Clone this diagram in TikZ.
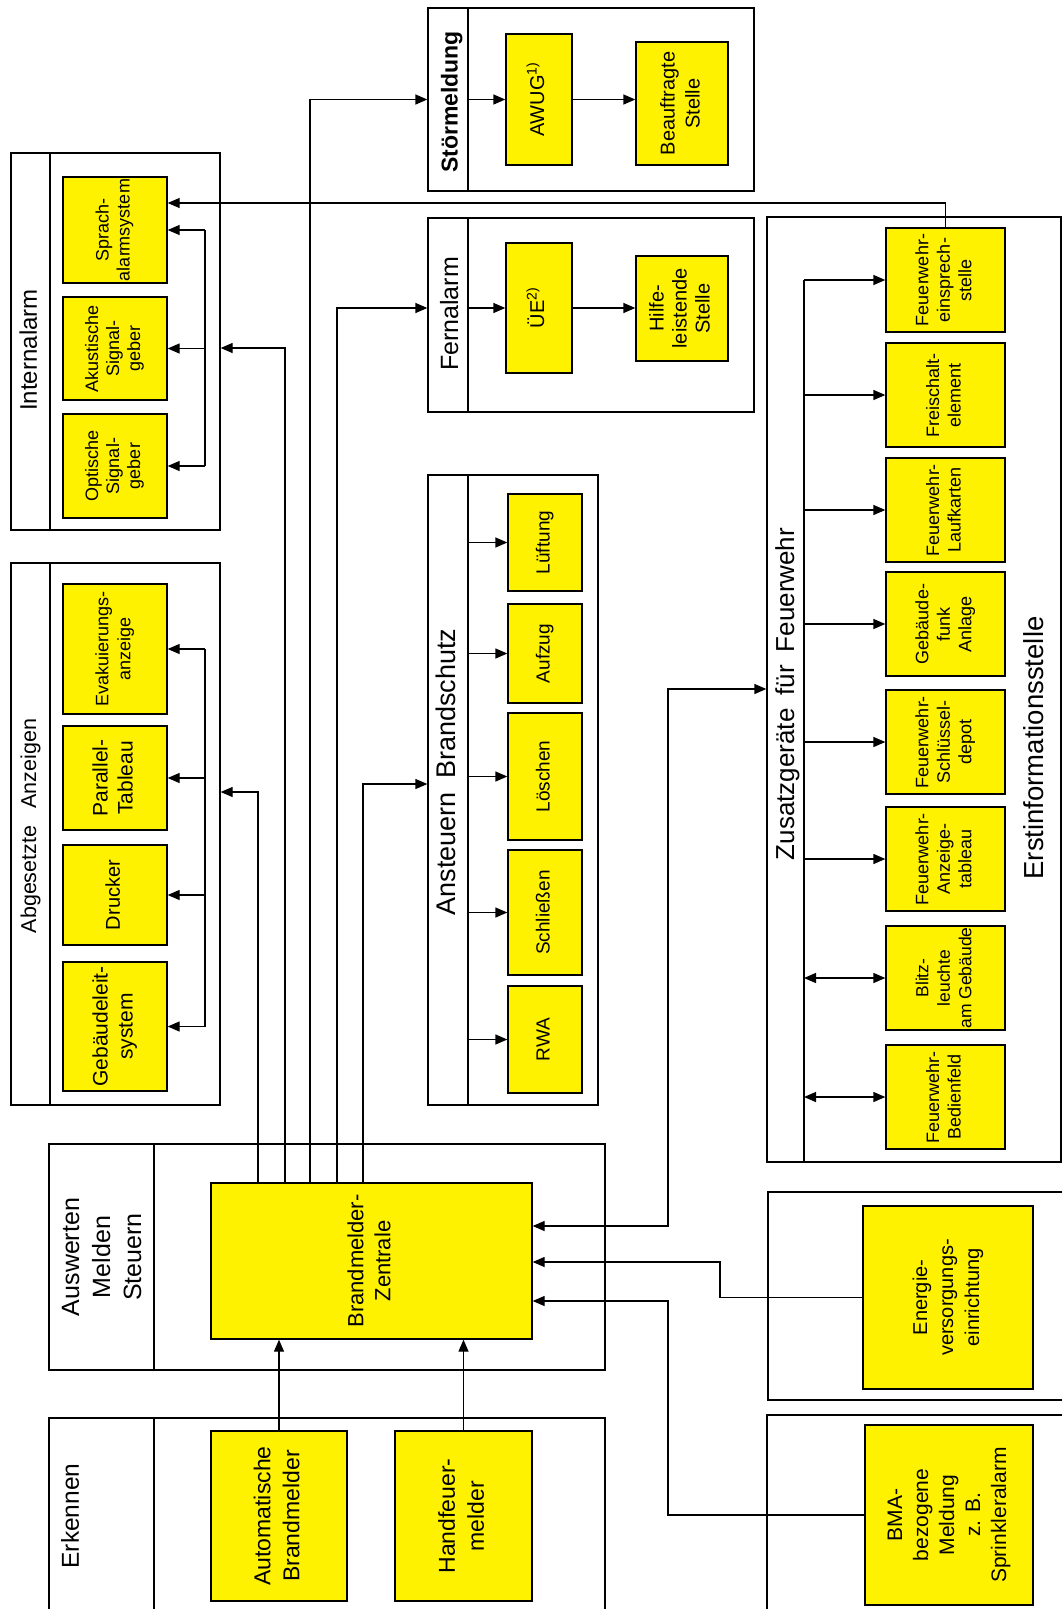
\documentclass[tikz,border=0pt]{standalone}
\usepackage{fontspec}
\setmainfont{Liberation Sans}
\usetikzlibrary{arrows.meta}
\newcommand{\vtext}[3]{\rotatebox{90}{\fontsize{#1}{#2}\selectfont\begin{tabular}{@{}c@{}}#3\end{tabular}}}
\tikzset{
  gframe/.style={draw, line width=1.3pt, inner sep=0pt},
  ybox/.style={draw, fill=yellow, line width=1.3pt, inner sep=0pt},
  grouptitle/.style={inner sep=0pt},
  wire/.style={line width=1.3pt},
  arr/.style={line width=1.3pt, -{Triangle[length=12pt,width=10pt]}},
  darr/.style={line width=1.3pt, {Triangle[length=12pt,width=10pt]}-{Triangle[length=12pt,width=10pt]}}
}
\begin{document}
\begin{tikzpicture}[x=1pt,y=-1pt]
\useasboundingbox (0,0) rectangle (1062,1609);
\clip (0,0) rectangle (1062,1609);

\node[gframe, minimum width=326pt, minimum height=183pt] (stoer) at (591,99.5) {};
\node[gframe, minimum width=326pt, minimum height=194pt] (fern) at (591,315) {};
\node[gframe, minimum width=209pt, minimum height=377pt] (intern) at (115.5,341.5) {};
\node[gframe, minimum width=209pt, minimum height=542pt] (abges) at (115.5,834) {};
\node[gframe, minimum width=170pt, minimum height=630pt] (anst) at (513,790) {};
\node[gframe, minimum width=294pt, minimum height=945pt] (erst) at (914,689.5) {};
\node[gframe, minimum width=556pt, minimum height=226pt] (ausw) at (327,1257) {};
\node[gframe, minimum width=556pt, minimum height=222pt] (erk) at (327,1529) {};
\node[gframe, minimum width=298pt, minimum height=208pt] (energf) at (917,1296) {};
\node[gframe, minimum width=299pt, minimum height=225pt] (bmaf) at (916.5,1527.5) {};

\draw[wire] (stoer.north -| 468,0) -- (stoer.south -| 468,0);
\draw[wire] (fern.north -| 468,0) -- (fern.south -| 468,0);
\draw[wire] (intern.north -| 50,0) -- (intern.south -| 50,0);
\draw[wire] (abges.north -| 50,0) -- (abges.south -| 50,0);
\draw[wire] (anst.north -| 468,0) -- (anst.south -| 468,0);
\draw[wire] (ausw.north -| 154,0) -- (ausw.south -| 154,0);
\draw[wire] (erk.north -| 154,0) -- (erk.south -| 154,0);

\node[grouptitle] (tstoer) at (452,102) {\vtext{23}{28}{\bfseries Störmeldung}};
\node[grouptitle] (tfern) at (452,314) {\vtext{25}{30}{Fernalarm}};
\node[grouptitle] (tintern) at (31,350) {\vtext{24}{29}{Internalarm}};
\node[grouptitle] (tabges) at (31,826) {\vtext{21.5}{25}{Abgesetzte\hspace{0.8em}Anzeigen}};
\node[grouptitle] (tanst) at (449,772) {\vtext{27}{32}{Ansteuern\hspace{0.5em}Brandschutz}};
\node[grouptitle] (tzus) at (788,694) {\vtext{26}{31}{Zusatzgeräte\hspace{0.5em}für\hspace{0.5em}Feuerwehr}};
\node[grouptitle] (terst) at (1037,748) {\vtext{27.5}{32}{Erstinformationsstelle}};
\node[grouptitle] (tausw) at (104,1257) {\vtext{25}{31}{Auswerten\\Melden\\Steuern}};
\node[grouptitle] (terk) at (73,1516) {\vtext{24.5}{29}{Erkennen}};

\node[ybox, minimum width=66pt, minimum height=131pt] (awug) at (539,99.5) {\vtext{20}{24}{AWUG\textsuperscript{1)}}};
\node[ybox, minimum width=92pt, minimum height=123pt] (beauf) at (682,103.5) {\vtext{20}{25}{Beauftragte\\Stelle}};
\node[ybox, minimum width=66pt, minimum height=130pt] (ue) at (539,308) {\vtext{20}{24}{ÜE\textsuperscript{2)}}};
\node[ybox, minimum width=92pt, minimum height=105pt] (hilfe) at (682,308.5) {\vtext{20}{23}{Hilfe-\\leistende\\Stelle}};

\node[ybox, minimum width=104pt, minimum height=106pt] (sprach) at (115,230) {\vtext{18}{21}{Sprach-\\alarmsystem}};
\node[ybox, minimum width=104pt, minimum height=103pt] (akust) at (115,348.5) {\vtext{18}{21}{Akustische\\Signal-\\geber}};
\node[ybox, minimum width=104pt, minimum height=104pt] (opt) at (115,466) {\vtext{18}{21}{Optische\\Signal-\\geber}};

\node[ybox, minimum width=104pt, minimum height=130pt] (evak) at (115,649) {\vtext{18}{22}{Evakuierungs-\\anzeige}};
\node[ybox, minimum width=104pt, minimum height=104pt] (para) at (115,778) {\vtext{21}{25}{Parallel-\\Tableau}};
\node[ybox, minimum width=104pt, minimum height=100pt] (druck) at (115,895) {\vtext{20}{24}{Drucker}};
\node[ybox, minimum width=104pt, minimum height=129pt] (gebl) at (115,1026.5) {\vtext{21}{25}{Gebäudeleit-\\system}};

\node[ybox, minimum width=74pt, minimum height=97pt] (lueft) at (545,542.5) {\vtext{19}{23}{Lüftung}};
\node[ybox, minimum width=74pt, minimum height=99pt] (aufz) at (545,653.5) {\vtext{19}{23}{Aufzug}};
\node[ybox, minimum width=74pt, minimum height=127pt] (loesch) at (545,776.5) {\vtext{19}{23}{Löschen}};
\node[ybox, minimum width=74pt, minimum height=125pt] (schl) at (545,912.5) {\vtext{19}{23}{Schließen}};
\node[ybox, minimum width=74pt, minimum height=107pt] (rwa) at (545,1039.5) {\vtext{19}{23}{RWA}};

\node[ybox, minimum width=119pt, minimum height=104pt] (einspr) at (945.5,280) {\vtext{18}{21.5}{Feuerwehr-\\einsprech-\\stelle}};
\node[ybox, minimum width=119pt, minimum height=104pt] (freis) at (945.5,395) {\vtext{18}{21.5}{Freischalt-\\element}};
\node[ybox, minimum width=119pt, minimum height=104pt] (laufk) at (945.5,510) {\vtext{18}{21.5}{Feuerwehr-\\Laufkarten}};
\node[ybox, minimum width=119pt, minimum height=104pt] (funk) at (945.5,624) {\vtext{18}{21.5}{Gebäude-\\funk\\Anlage}};
\node[ybox, minimum width=119pt, minimum height=104pt] (depot) at (945.5,742) {\vtext{18}{21.5}{Feuerwehr-\\Schlüssel-\\depot}};
\node[ybox, minimum width=119pt, minimum height=104pt] (tabl) at (945.5,859) {\vtext{18}{21.5}{Feuerwehr-\\Anzeige-\\tableau}};
\node[ybox, minimum width=119pt, minimum height=104pt] (blitz) at (945.5,978) {\vtext{17.5}{21.5}{Blitz-\\leuchte\\am Gebäude}};
\node[ybox, minimum width=119pt, minimum height=104pt] (bedien) at (945.5,1097) {\vtext{18}{21.5}{Feuerwehr-\\Bedienfeld}};

\node[ybox, minimum width=321pt, minimum height=156pt] (bmz) at (371.5,1261) {\vtext{22}{27}{Brandmelder-\\Zentrale}};
\node[ybox, minimum width=136pt, minimum height=170pt] (auto) at (279,1516) {\vtext{23}{29}{Automatische\\Brandmelder}};
\node[ybox, minimum width=137pt, minimum height=170pt] (hand) at (463.5,1516) {\vtext{23}{29}{Handfeuer-\\melder}};
\node[ybox, minimum width=170pt, minimum height=183pt] (energ) at (948,1297.5) {\vtext{20}{26}{Energie-\\versorgungs-\\einrichtung}};
\node[ybox, minimum width=168pt, minimum height=180pt] (bma) at (949,1515) {\vtext{21}{26}{BMA-\\bezogene\\Meldung\\z. B.\\Sprinkleralarm}};

\draw[arr] (auto.north) -- (auto.north |- bmz.south);
\draw[arr] (hand.north) -- (hand.north |- bmz.south);

\draw[arr] (bmz.north -| 258,0) |- (abges.east |- 0,792);
\draw[arr] (bmz.north -| 285,0) |- (intern.east |- 0,348);
\draw[arr] (bmz.north -| 310,0) |- (stoer.west |- awug.west);
\draw[arr] (bmz.north -| 337,0) |- (fern.west |- ue.west);
\draw[arr] (bmz.north -| 363,0) |- (anst.west |- 0,784);

\draw[arr] (awug.west -| 468,0) -- (awug.west);
\draw[arr] (awug.east) -- (awug.east -| beauf.west);
\draw[arr] (ue.west -| 468,0) -- (ue.west);
\draw[arr] (ue.east) -- (ue.east -| hilfe.west);

\draw[wire] (sprach.east -| 205,0) -- (opt.east -| 205,0);
\foreach \n in {sprach,akust,opt} \draw[arr] (\n.east -| 205,0) -- (\n.east);
\draw[arr] (einspr.north) |- (sprach.east |- 0,203);

\draw[wire] (evak.east -| 205,0) -- (gebl.east -| 205,0);
\foreach \n in {evak,para,druck,gebl} \draw[arr] (\n.east -| 205,0) -- (\n.east);

\foreach \n in {lueft,aufz,loesch,schl,rwa} \draw[arr] (\n.west -| 468,0) -- (\n.west);

\draw[wire] (einspr.west -| 804,0) -- (erst.south -| 804,0);
\foreach \n in {einspr,freis,laufk,funk,depot,tabl} \draw[arr] (\n.west -| 804,0) -- (\n.west);
\foreach \n in {blitz,bedien} \draw[darr] (\n.west -| 804,0) -- (\n.west);

\coordinate (kz) at (668,689);
\coordinate (ke) at (720,1262);
\coordinate (kb) at (668,1301);
\draw[darr] (bmz.east |- 0,1226) -| (kz) -- (erst.west |- kz);
\draw[arr] (energ.west) -| (ke) -- (bmz.east |- ke);
\draw[arr] (bma.west) -| (kb) -- (bmz.east |- kb);
\end{tikzpicture}
\end{document}
